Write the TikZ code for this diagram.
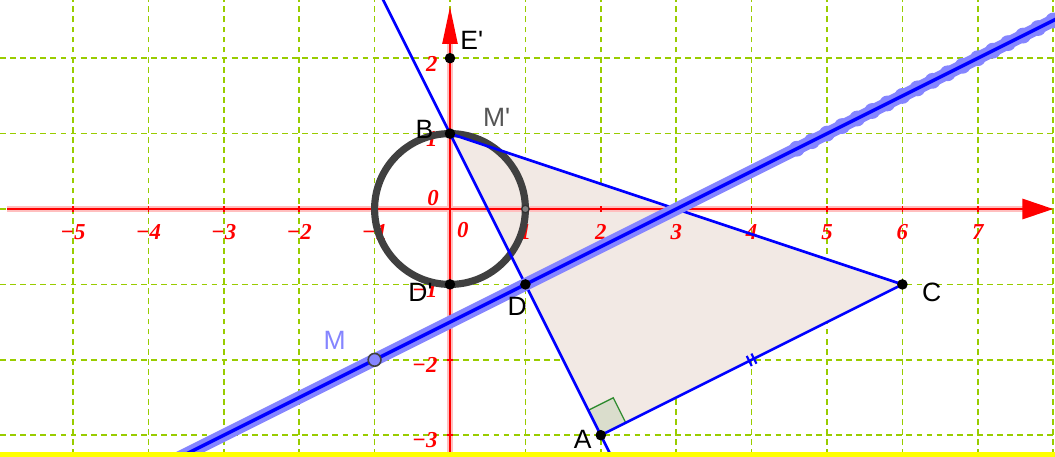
\documentclass[tikz,border=0pt]{standalone}
\usepackage{fontspec}
\setmainfont{Liberation Serif}
\newfontfamily\ptfont{Liberation Sans}
\usetikzlibrary{arrows.meta, calc}
\definecolor{gridgreen}{HTML}{99CC00}
\definecolor{axisred}{HTML}{FF0000}
\definecolor{trifill}{HTML}{F2E9E4}
\definecolor{locusblue}{HTML}{8585FF}
\definecolor{circgray}{HTML}{404040}
\definecolor{anglegreen}{HTML}{2E8B2E}
\definecolor{anglefill}{HTML}{DADDCC}
\definecolor{labelgray}{HTML}{555555}
\definecolor{stripyellow}{HTML}{FFFF00}
\tikzset{
  % Grid and axes
  gridline/.style={draw=gridgreen, dash pattern=on 2.2pt off 1.6pt, line width=0.55pt},
  axisglow/.style={draw=axisred!25, line width=2.4pt},
  axisline/.style={draw=axisred, line width=0.8pt},
  axisnum/.style={text=axisred, font=\fontsize{8.6}{10}\selectfont\bfseries\itshape, inner sep=0pt},
  % Figure lines
  segline/.style={draw=blue, line width=1pt},
  locusband/.style={draw=locusblue, line width=4.8pt},
  locusline/.style={draw=blue, line width=1.3pt},
  circline/.style={draw=circgray, line width=2.7pt},
  % Points and labels
  ptdot/.style={fill=black},
  ptlabel/.style={font=\ptfont\fontsize{10}{12}\selectfont, inner sep=0pt},
}
\begin{document}
\begin{tikzpicture}
  \useasboundingbox (-5.968,-3.276) rectangle (8.024,2.772);
  \clip (-5.968,-3.276) rectangle (8.024,2.772);

  % Points
  \coordinate (A) at (2,-3);
  \coordinate (B) at (0,1);
  \coordinate (C) at (6,-1);
  \coordinate (D) at (1,-1);
  \coordinate (Dp) at (0,-1);
  \coordinate (Ep) at (0,2);
  \coordinate (M) at (-1,-2);
  \coordinate (O) at (0,0);
  \coordinate (P) at (1,0);
  \coordinate (Ltop) at (-0.92,2.84);
  \coordinate (Lbot) at (2.16,-3.32);
  \coordinate (Tstart) at (-3.7,-3.35);
  \coordinate (Tend) at (8.2,2.6);
  \coordinate (mid) at ($(A)!0.5!(C)$);
  % right angle corners
  \coordinate (Ra) at (1.8345,-2.6691);
  \coordinate (Rm) at (2.1654,-2.5036);
  \coordinate (Rc) at (2.3309,-2.8345);

  % Grid
  \foreach \x in {-5,...,8}
    \draw[gridline] (\x,-3.4) -- (\x,2.9);
  \foreach \y in {-3,...,2}
    \draw[gridline] (-6.1,\y) -- (8.1,\y);

  % Triangle
  \fill[trifill] (A) -- (B) -- (C) -- cycle;
  \draw[anglegreen, fill=anglefill, line width=0.5pt] (A) -- (Ra) -- (Rm) -- (Rc) -- cycle;

  % Axes
  \draw[axisglow] (-5.88,0) -- (7.7,0);
  \draw[axisglow] (0,-3.4) -- (0,2.3);
  \draw[axisline, -{Triangle[length=0.41cm, width=0.27cm]}] (-5.88,0) -- (8.0,0);
  \draw[axisline, -{Triangle[length=0.49cm, width=0.2cm]}] (0,-3.4) -- (0,2.68);
  \foreach \x in {-5,...,7}
    \draw[axisline, line width=0.6pt] (\x,-0.04) -- (\x,0.04);
  \foreach \y in {-3,...,2}
    \draw[axisline, line width=0.6pt] (-0.04,\y) -- (0.04,\y);
  \foreach \x/\t in {-5/−5,-4/−4,-3/−3,-2/−2,-1/−1,1/1,2/2,3/3,4/4,5/5,6/6,7/7}
    \node[axisnum] (nx\x) at (\x,-0.31) {\t};
  \foreach \y/\t in {-3/−3,-2/−2,-1/−1,1/1,2/2}
    \node[axisnum, anchor=east] (ny\y) at (-0.16,\y-0.07) {\t};
  \node[axisnum] (zx) at (-0.225,0.146) {0};
  \node[axisnum] (zy) at (0.17,-0.28) {0};

  % Circle
  \draw[circline] (O) circle (1);

  % Lines
  \draw[segline] (Ltop) -- (Lbot);
  \draw[segline] (B) -- (C) -- (A);
  \draw[segline, line width=0.8pt, shift={(mid)}, rotate=26.565]
    (-0.035,-0.075) -- (-0.035,0.075) (0.035,-0.075) -- (0.035,0.075);

  % Locus of M'
  \draw[locusband] (Tstart) -- (Tend);
  \foreach \x in {4.6,4.8,...,8.2}
    \fill[locusblue] (\x,{(\x-3)/2}) circle (0.105);
  \draw[locusline] (Tstart) -- (Tend);

  % Dots
  \foreach \p in {A,B,C,D,Dp,Ep}
    \fill[ptdot] (\p) circle (0.07);
  \filldraw[fill=locusblue, draw=circgray, line width=0.6pt] (M) circle (0.085);
  \filldraw[fill=gray, draw=black!80, line width=0.5pt] (P) circle (0.05);

  % Labels
  \node[ptlabel] (lA) at (1.76,-3.06) {A};
  \node[ptlabel] (lB) at (-0.34,1.05) {B};
  \node[ptlabel] (lC) at (6.39,-1.10) {C};
  \node[ptlabel] (lD) at (0.89,-1.29) {D};
  \node[ptlabel] (lDp) at (-0.39,-1.11) {D'};
  \node[ptlabel] (lEp) at (0.29,2.23) {E'};
  \node[ptlabel, text=labelgray] (lMp) at (0.62,1.22) {M'};
  \node[ptlabel, text=locusblue] (lM) at (-1.53,-1.74) {M};

  % Bottom strip
  \fill[stripyellow] (-6.1,-3.219) rectangle (8.1,-3.4);
\end{tikzpicture}
\end{document}
